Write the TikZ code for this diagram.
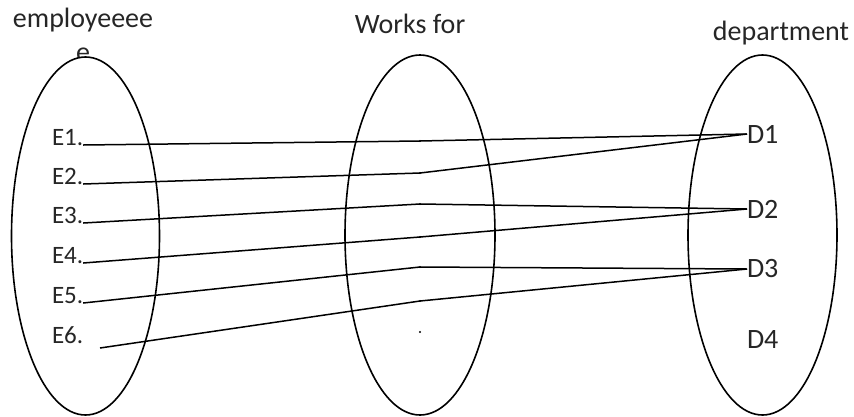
\documentclass[tikz,border=0pt]{standalone}
\usepackage{fontspec}
\setmainfont{Carlito}

\begin{document}
\begin{tikzpicture}[x=1pt,y=-1pt,every node/.style={inner sep=0pt, outer sep=0pt, text=black!85},
  setring/.style={draw=black, line width=1.6pt, fill=white},
  title/.style={font=\fontsize{28}{34}\selectfont, align=center, anchor=base},
  member/.style={font=\fontsize{25}{30}\selectfont, anchor=base west},
  dept/.style={font=\fontsize{28}{34}\selectfont, anchor=west},
  dot/.style={circle, fill=black, minimum size=2.2pt},
  link/.style={line width=1.5pt, line join=round}]
\useasboundingbox (0,0) rectangle (854,416);

\node[title] (emp) at (83,61) {employeeee\\e};
\node[title] (works) at (410,33) {Works for};
\node[title] (deptname) at (781,40) {department};

\draw[setring] (85.5,236) ellipse [x radius=74, y radius=179];
\draw[setring] (420,235) ellipse [x radius=75, y radius=180];
\draw[setring] (762.5,235) ellipse [x radius=74.5, y radius=180];

\node[member] (E1) at (52,145) {E1.};
\node[member] (E2) at (52,184) {E2.};
\node[member] (E3) at (52,223) {E3.};
\node[member] (E4) at (52,263) {E4.};
\node[member] (E5) at (52,303) {E5.};
\node[member] (E6) at (52,343) {E6.};
\coordinate (e6) at (100,348);

\foreach \y [count=\i] in {141,173,204,237,267,301,332}
  \node[dot] (m\i) at (420,\y) {};

\node[dept] (D1) at (747,134) {D1};
\node[dept] (D2) at (747,209) {D2};
\node[dept] (D3) at (747,269) {D3};
\node[dept] (D4) at (747,340) {D4};

\draw[link] (E1.base east) -- (m1.center) -- (D1.west);
\draw[link] (E2.base east) -- (m2.center) -- (D1.west);
\draw[link] (E3.base east) -- (m3.center) -- (D2.west);
\draw[link] (E4.base east) -- (m4.center) -- (D2.west);
\draw[link] (E5.base east) -- (m5.center) -- (D3.west);
\draw[link] (e6) -- (m6.center) -- (D3.west);
\end{tikzpicture}
\end{document}
